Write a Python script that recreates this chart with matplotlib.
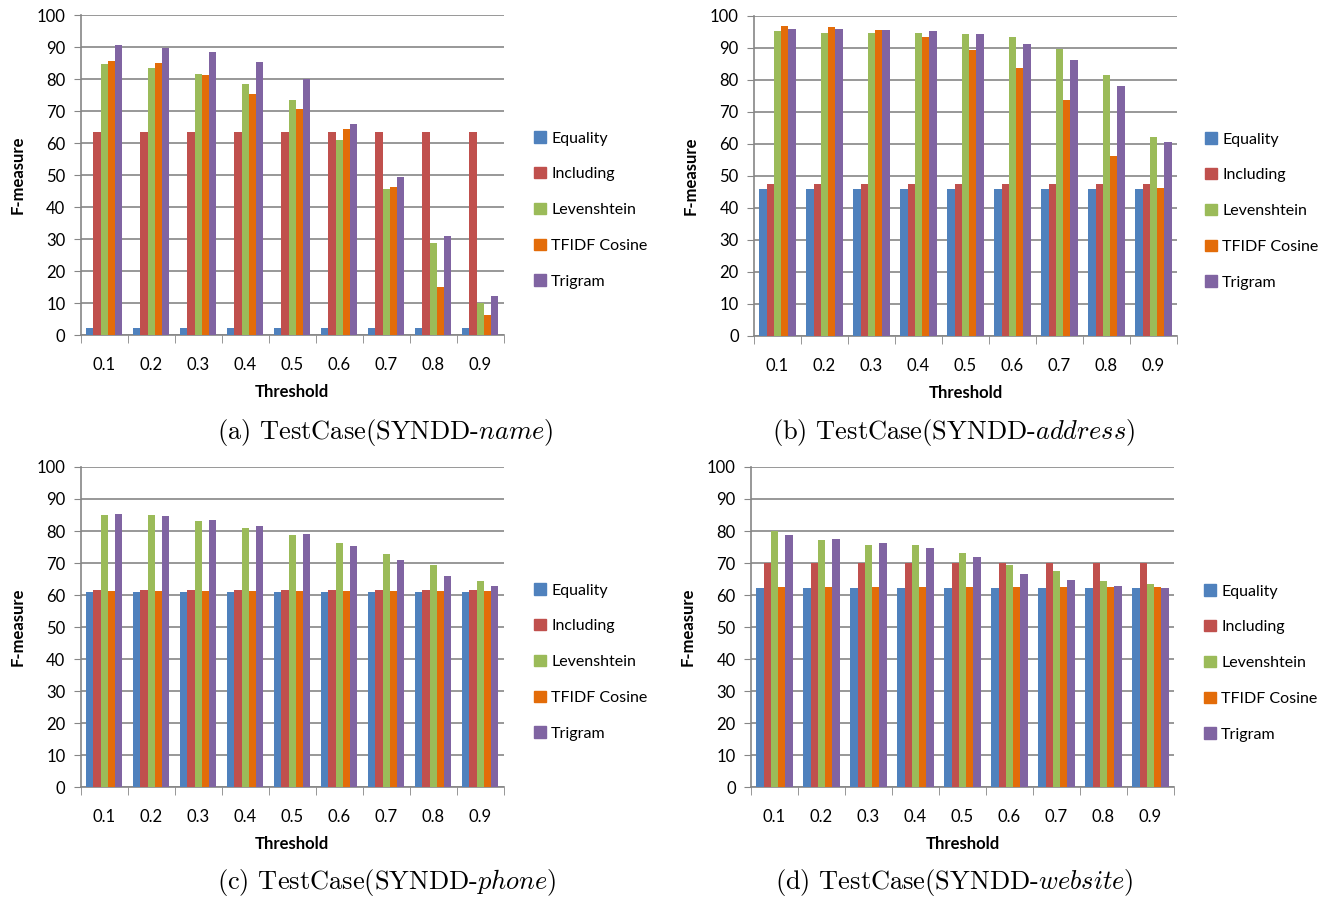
import numpy as np
import matplotlib.pyplot as plt
from matplotlib.patches import Patch

plt.rcParams['font.family'] = ['Lato', 'DejaVu Sans']
plt.rcParams['mathtext.fontset'] = 'cm'

thresholds = ["0.1", "0.2", "0.3", "0.4", "0.5", "0.6", "0.7", "0.8", "0.9"]
methods = ["Equality", "Including", "Levenshtein", "TFIDF Cosine", "Trigram"]
colors = ["#4F81BD", "#C0504D", "#9BBB59", "#E36C09", "#8064A2"]

# (a) name
name_equality = [2.3] * 9
name_including = [63.3] * 9
name_levenshtein = [84.6, 83.3, 81.6, 78.3, 73.4, 61.0, 45.7, 28.7, 10.0]
name_tfidf = [85.6, 85.0, 81.4, 75.4, 70.6, 64.4, 46.1, 14.9, 6.2]
name_trigram = [90.6, 89.7, 88.3, 85.3, 80.1, 65.9, 49.4, 30.9, 12.2]

# (b) address
addr_equality = [45.8] * 9
addr_including = [47.4] * 9
addr_levenshtein = [95.2, 94.8, 94.8, 94.6, 94.3, 93.3, 89.6, 81.5, 62.3]
addr_tfidf = [96.9, 96.6, 95.6, 93.3, 89.4, 83.6, 73.6, 56.1, 46.4]
addr_trigram = [95.9, 95.9, 95.7, 95.4, 94.5, 91.3, 86.4, 78.0, 60.7]

# (c) phone
phone_equality = [61.0] * 9
phone_including = [61.6] * 9
phone_levenshtein = [85.1, 85.1, 83.1, 81.0, 78.8, 76.4, 72.9, 69.4, 64.4]
phone_tfidf = [61.2] * 9
phone_trigram = [85.4, 84.8, 83.4, 81.7, 79.1, 75.4, 71.0, 66.0, 62.7]

# (d) website
web_equality = [62.1] * 9
web_including = [70.1] * 9
web_levenshtein = [80.0, 77.3, 75.6, 75.5, 73.2, 69.5, 67.5, 64.3, 63.4]
web_tfidf = [62.4] * 9
web_trigram = [78.7, 77.5, 76.1, 74.8, 71.8, 66.5, 64.7, 62.9, 62.1]

panels = [
    ([name_equality, name_including, name_levenshtein, name_tfidf, name_trigram],
     "(a) TestCase(SYNDD-$name$)", [80.7, 335], [528, 210], [385, 432]),
    ([addr_equality, addr_including, addr_levenshtein, addr_tfidf, addr_trigram],
     "(b) TestCase(SYNDD-$address$)", [754, 336], [1199, 211], [954, 432]),
    ([phone_equality, phone_including, phone_levenshtein, phone_tfidf, phone_trigram],
     "(c) TestCase(SYNDD-$phone$)", [80.7, 787], [528, 662], [387, 882]),
    ([web_equality, web_including, web_levenshtein, web_tfidf, web_trigram],
     "(d) TestCase(SYNDD-$website$)", [751, 787], [1198, 663], [954, 882]),
]

W, H = 1337, 900
fig = plt.figure(figsize=(W / 100, H / 100), dpi=100)

grid_c = "#868686"
x = np.arange(len(thresholds))
bw = 0.155

for series, caption, (l, b), (lx, ly), (cx, cy) in panels:
    ax = fig.add_axes([l / W, (H - b) / H, 423 / W, 320 / H])
    for i, vals in enumerate(series):
        ax.bar(x + (i - 2) * bw, vals, width=bw, color=colors[i], zorder=3)
    ax.set_xlim(-0.5, len(thresholds) - 0.5)
    ax.set_ylim(0, 100)
    ax.set_yticks(np.arange(0, 101, 10))
    ax.set_xticks(x)
    ax.set_xticklabels(thresholds)
    ax.set_xticks(np.arange(-0.5, len(thresholds)), minor=True)
    ax.tick_params(axis='x', which='major', length=0, pad=16, labelsize=12)
    ax.tick_params(axis='x', which='minor', length=6, color=grid_c)
    ax.tick_params(axis='y', length=5, color=grid_c, pad=6, labelsize=12)
    ax.grid(axis='y', color=grid_c, lw=1.2, zorder=0)
    for s in ["top", "right"]:
        ax.spines[s].set_visible(False)
    for s in ["left", "bottom"]:
        ax.spines[s].set_color(grid_c)
        ax.spines[s].set_linewidth(1.2)
    ax.set_xlabel("Threshold", fontweight='bold', fontsize=12, labelpad=8)
    ax.set_ylabel("F-measure", fontweight='bold', fontsize=12, labelpad=8)
    handles = [Patch(color=c, label=m) for c, m in zip(colors, methods)]
    fig.legend(handles=handles, loc='center left', bbox_to_anchor=(lx / W, (H - ly) / H),
               frameon=False, fontsize=11.5, handlelength=0.7, handleheight=0.7,
               handletextpad=0.35, labelspacing=1.35, borderaxespad=0)
    fig.text(cx / W, (H - cy) / H, caption, family='cmr10', fontsize=19,
             ha='center', va='center')

fig.savefig("out.png", dpi=100)
